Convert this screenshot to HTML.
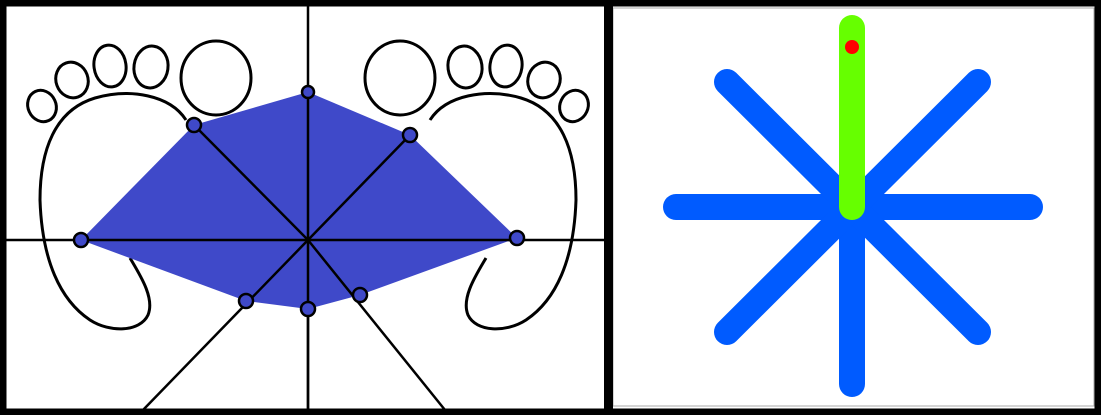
<!DOCTYPE html>
<html><head><meta charset="utf-8"><style>
html,body{margin:0;padding:0;background:#fff;}
svg{display:block;}
</style></head><body>
<svg width="1101" height="415" viewBox="0 0 1101 415">
<rect x="0" y="0" width="1101" height="415" fill="#fff"/>
<g>
 <line x1="308" y1="5" x2="308" y2="410" stroke="#000" stroke-width="2.5"/>
 <line x1="5" y1="240" x2="606" y2="240" stroke="#000" stroke-width="2.5"/>
 <g id="foot" fill="none" stroke="#000" stroke-width="3">
  <ellipse cx="42" cy="106" rx="14" ry="16" transform="rotate(-25 42 106)"/>
  <ellipse cx="72" cy="80" rx="16" ry="18" transform="rotate(-20 72 80)"/>
  <ellipse cx="110" cy="66" rx="16" ry="21" transform="rotate(-8 110 66)"/>
  <ellipse cx="151" cy="67" rx="17" ry="21" transform="rotate(8 151 67)"/>
  <ellipse cx="216" cy="78" rx="35" ry="37"/>
  <path d="M186 120 C170 95 130 88 95 98 C55 110 40 150 40 200 C42 260 60 300 90 320 C110 333 140 332 148 315 C155 298 140 275 130 258"/>
 </g>
 <use href="#foot" transform="translate(616 0) scale(-1 1)"/>
 <polygon points="81,240 194,125 308,92 410,135 517,238 360,295 308,309 246,301" fill="#3f49c9"/>
 <g stroke="#000" stroke-width="2.5">
  <line x1="308" y1="92" x2="308" y2="410"/>
  <line x1="81" y1="240" x2="517" y2="240"/>
  <line x1="308" y1="240" x2="194" y2="125"/>
  <line x1="308" y1="240" x2="410" y2="135"/>
  <line x1="308" y1="240" x2="143" y2="410"/>
  <line x1="308" y1="240" x2="445" y2="410"/>
 </g>
 <g fill="#3f49c9" stroke="#000" stroke-width="2.5">
  <circle cx="81" cy="240" r="7"/><circle cx="194" cy="125" r="7"/>
  <circle cx="308" cy="92" r="6"/><circle cx="410" cy="135" r="7"/>
  <circle cx="517" cy="238" r="7"/><circle cx="360" cy="295" r="7"/>
  <circle cx="308" cy="309" r="7"/><circle cx="246" cy="301" r="7"/>
 </g>
</g>
<g>
 <rect x="613" y="8" width="481" height="398" fill="#fff" stroke="#aaa" stroke-width="1"/>
 <g stroke="#005bff" stroke-width="26" stroke-linecap="round">
  <line x1="676" y1="207" x2="1030" y2="207"/>
  <line x1="852" y1="207" x2="852" y2="384"/>
  <line x1="727" y1="82" x2="978" y2="332"/>
  <line x1="978" y1="82" x2="727" y2="332"/>
 </g>
 <line x1="852" y1="28" x2="852" y2="207" stroke="#66ff00" stroke-width="26" stroke-linecap="round"/>
 <circle cx="852" cy="47" r="7" fill="#ff0000"/>
</g>
<rect x="3" y="3" width="1095" height="409" fill="none" stroke="#000" stroke-width="7"/>
<rect x="604" y="0" width="9" height="415" fill="#000"/>
</svg>
</body></html>
